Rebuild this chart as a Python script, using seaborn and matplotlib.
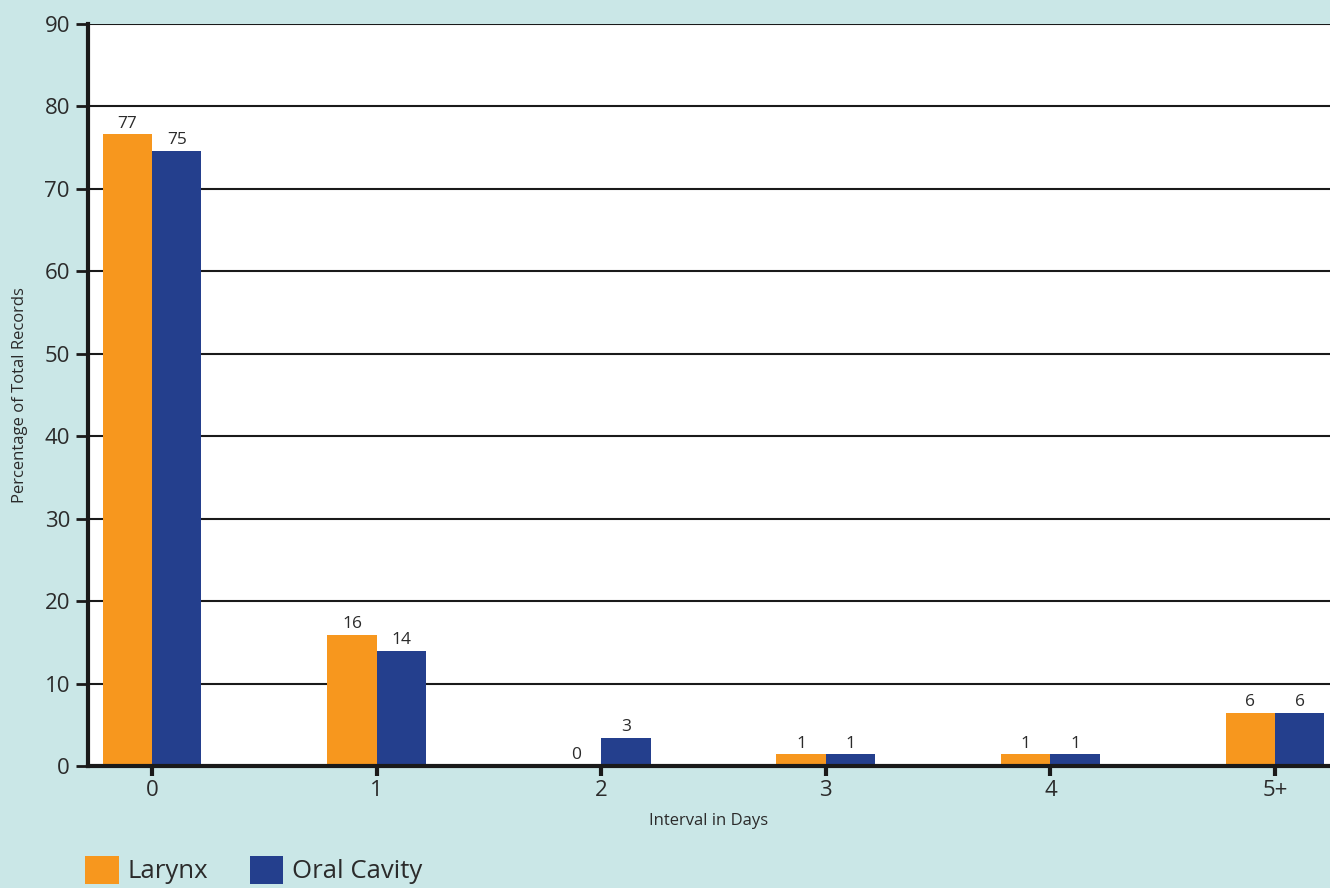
import matplotlib
matplotlib.use("Agg")
import matplotlib.pyplot as plt
import seaborn as sns
import pandas as pd
from matplotlib.patches import Patch

# Data
intervals = ["0", "1", "2", "3", "4", "5+"]
larynx = [76.6, 15.9, 0.0, 1.4, 1.4, 6.4]
oral_cavity = [74.6, 14.0, 3.4, 1.4, 1.4, 6.4]
sites = ["Larynx", "Oral Cavity"]
colors = ["#F7971E", "#243F8D"]

df = pd.DataFrame({
    "Interval": intervals * 2,
    "Percent": larynx + oral_cavity,
    "Site": [sites[0]] * len(intervals) + [sites[1]] * len(intervals),
})

bg = "#CAE7E7"
text_col = "#2b2b2b"

sns.set_theme(style="white")
plt.rcParams["font.family"] = ["Open Sans", "DejaVu Sans"]

fig = plt.figure(figsize=(13.3, 8.88), dpi=100, facecolor=bg)
ax = fig.add_axes([0.0662, 0.1374, 0.9338, 0.8356])
ax.set_facecolor("white")

sns.barplot(data=df, x="Interval", y="Percent", hue="Site", order=intervals,
            hue_order=sites, palette=colors, width=0.44, gap=0,
            saturation=1, ax=ax, legend=False, edgecolor="none")

for cont in ax.containers:
    ax.bar_label(cont, fmt="%.0f", padding=2, fontsize=12.5, color=text_col)

ax.set_ylim(0, 90)
ax.set_xlim(-0.285, 5.245)
ax.set_yticks(range(0, 91, 10))
ax.yaxis.grid(True, color="#1a1a1a", linewidth=1.5)
ax.set_axisbelow(True)

for s in ["top", "right"]:
    ax.spines[s].set_visible(False)
for s in ["left", "bottom"]:
    ax.spines[s].set_color("#1a1a1a")
    ax.spines[s].set_linewidth(3)

ax.tick_params(axis="y", which="major", left=True, length=9, width=2,
               color="#1a1a1a", labelsize=16, labelcolor=text_col, pad=4)
ax.tick_params(axis="x", which="major", bottom=True, length=7, width=3,
               color="#1a1a1a", labelsize=16, labelcolor=text_col, pad=3)

ax.set_xlabel("Interval in Days", fontsize=12, color=text_col, labelpad=9)
ax.set_ylabel("Percentage of Total Records", fontsize=12, color=text_col, labelpad=12)

handles = [Patch(facecolor=c, edgecolor="none", label=l) for c, l in zip(colors, sites)]
fig.legend(handles=handles, loc="lower left", bbox_to_anchor=(0.0642, 0.004),
           ncol=2, frameon=False, fontsize=18.5, handlelength=1.3,
           handleheight=1.3, handletextpad=0.35, columnspacing=1.6,
           labelcolor=text_col, borderaxespad=0, borderpad=0)

fig.savefig("out.png", dpi=100, facecolor=bg)
